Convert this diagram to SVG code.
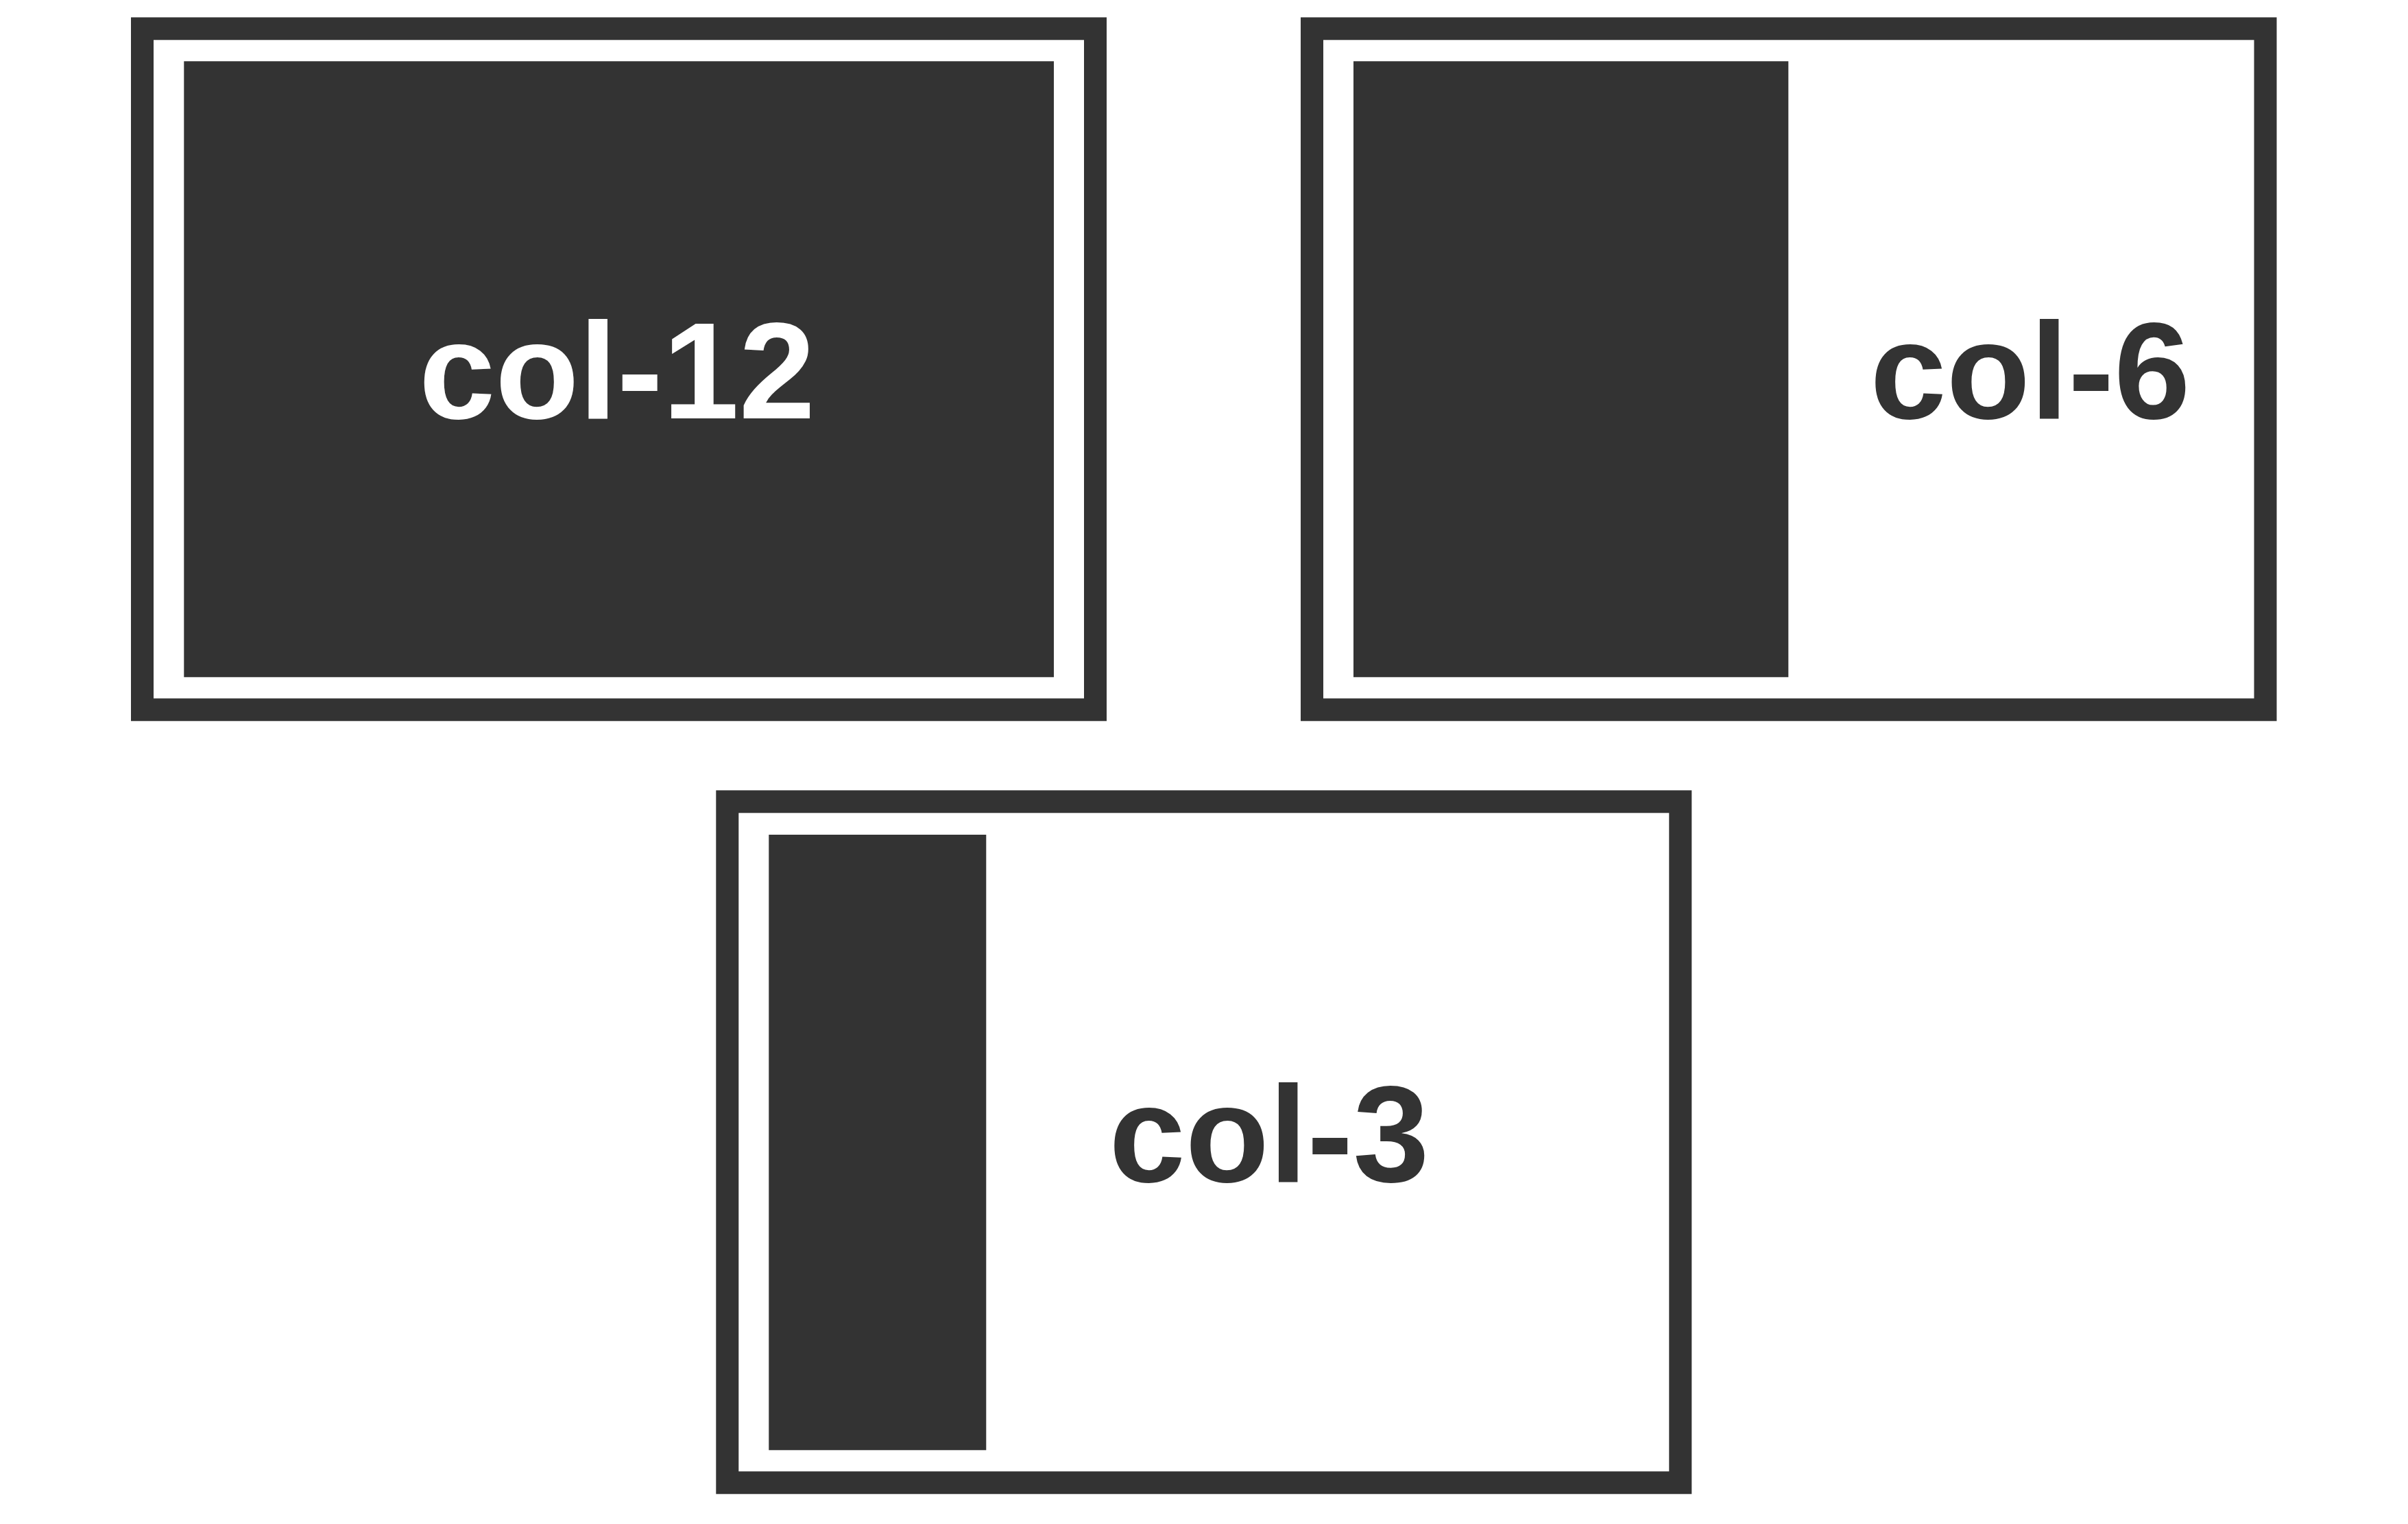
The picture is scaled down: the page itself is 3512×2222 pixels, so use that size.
<svg xmlns="http://www.w3.org/2000/svg" width="3512" height="2222" viewBox="0 0 3512 2222">
<style>
.frame{fill:#ffffff;stroke:#333333;stroke-width:33}
.col{fill:#333333}
.lbl{font-family:"Liberation Sans",Arial,sans-serif;font-weight:bold;font-size:200px;text-anchor:middle}
</style>
<rect width="3512" height="2222" fill="#ffffff"/>
<g id="box-col-12">
<rect class="frame" x="207.5" y="41.8" width="1390" height="993"/>
<rect class="col" x="268.3" y="89.3" width="1268.7" height="898"/>
<text class="lbl" x="900" y="610" fill="#ffffff">col-12</text>
</g>
<g id="box-col-6">
<rect class="frame" x="1913.5" y="41.8" width="1390.5" height="993"/>
<rect class="col" x="1974" y="89.3" width="634.3" height="898"/>
<text class="lbl" x="2961" y="610" fill="#333333">col-6</text>
</g>
<g id="box-col-3">
<rect class="frame" x="1060.8" y="1168.8" width="1390" height="993"/>
<rect class="col" x="1121.3" y="1217" width="317" height="897.3"/>
<text class="lbl" x="1851" y="1723" fill="#333333">col-3</text>
</g>
</svg>
